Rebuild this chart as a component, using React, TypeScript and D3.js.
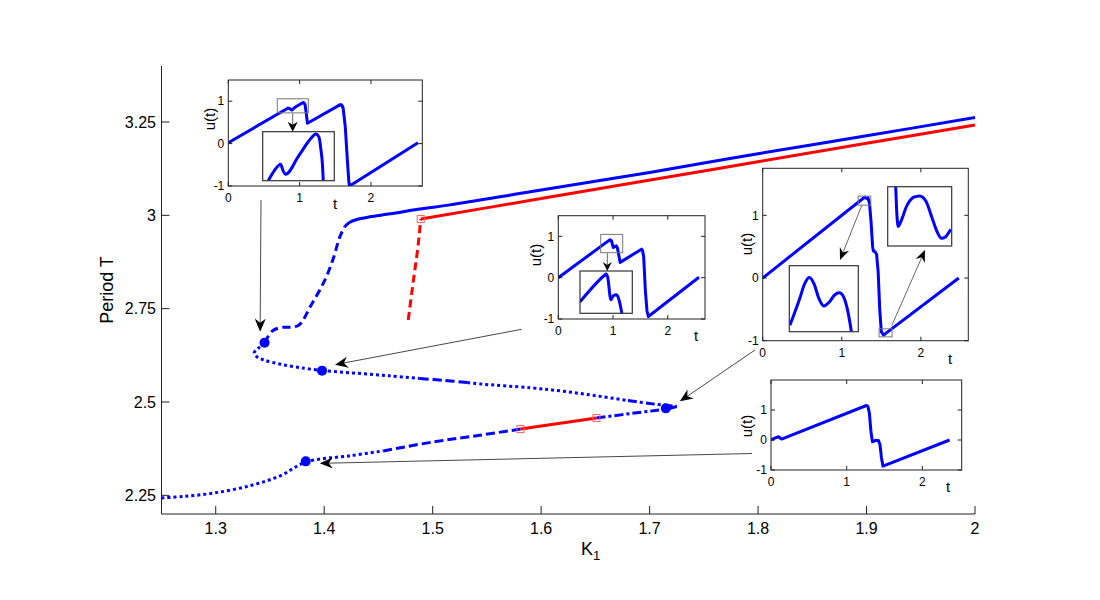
import React from "react";
import * as d3 from "d3";

type P = [number, number];

const W = 1100;
const H = 600;
const FONT = "'Liberation Sans', Arial, Helvetica, sans-serif";
const BLUE = "#0000ff";
const RED = "#ff0000";

// ---- main diagram: K1 against period T
const kTicks = [1.3, 1.4, 1.5, 1.6, 1.7, 1.8, 1.9, 2];
const periodTicks = [2.25, 2.5, 2.75, 3, 3.25];

// stable upper branch
const blueSolid: P[] = [
  [1.419, 2.97], [1.424, 2.982], [1.43, 2.989], [1.442, 2.996], [1.461, 3.004],
  [1.488, 3.017], [1.516, 3.028], [1.59, 3.063], [1.7, 3.115], [1.8, 3.165],
  [1.9, 3.213], [2.0, 3.262],
];
const blueDashedUpper: P[] = [
  [1.345, 2.659], [1.352, 2.69], [1.359, 2.699], [1.376, 2.705], [1.388, 2.76],
  [1.4007, 2.827], [1.408, 2.881], [1.4145, 2.943], [1.419, 2.97],
];
const foldDotted: P[] = [
  [1.345, 2.659], [1.339, 2.643], [1.3355, 2.632], [1.338, 2.621], [1.344, 2.613],
  [1.36, 2.601], [1.38, 2.591], [1.398, 2.584],
];
const midDotted1: P[] = [[1.398, 2.584], [1.43, 2.577], [1.46, 2.57], [1.488, 2.563]];
const midDashed: P[] = [[1.488, 2.563], [1.51, 2.558], [1.532, 2.552]];
const midDotted2: P[] = [
  [1.532, 2.552], [1.545, 2.548], [1.59, 2.538], [1.62, 2.529], [1.65, 2.517], [1.68, 2.504],
];
const midDashDot: P[] = [[1.68, 2.504], [1.70, 2.496], [1.715, 2.491], [1.725, 2.488]];
const lowDashDot: P[] = [[1.725, 2.488], [1.715, 2.481], [1.69, 2.472], [1.651, 2.457]];
const lowDashed: P[] = [[1.4545, 2.369], [1.5005, 2.393], [1.5435, 2.411], [1.581, 2.4275]];
const lowDotted: P[] = [
  [1.25, 2.243], [1.27, 2.247], [1.298, 2.256], [1.332, 2.276], [1.36, 2.303],
  [1.383, 2.339], [1.4237, 2.356], [1.4545, 2.369],
];
// second family (red)
const redSolidUpper: P[] = [[1.489, 2.99], [1.6, 3.045], [1.75, 3.119], [1.9, 3.193], [2.0, 3.242]];
const redDashed: P[] = [[1.4775, 2.72], [1.4806, 2.79], [1.4836, 2.854], [1.4866, 2.92], [1.489, 2.99]];
const redSolidLower: P[] = [[1.581, 2.4275], [1.651, 2.457]];

const markers: P[] = [[1.345, 2.659], [1.398, 2.584], [1.715, 2.483], [1.383, 2.341]];
const squares: P[] = [[1.489, 2.99], [1.581, 2.4275], [1.651, 2.457]];

// ---- inset time series u(t)
const inset1Curve: P[] = [
  [0, 0.02], [0.84, 0.84], [0.865, 0.82], [0.89, 0.79], [0.93, 0.85], [1.03, 0.95],
  [1.055, 0.97], [1.075, 0.93], [1.09, 0.75], [1.11, 0.48], [1.57, 0.92], [1.59, 0.91],
  [1.61, 0.84], [1.64, 0.4], [1.67, -0.4], [1.69, -0.9], [1.70, -1], [2.66, 0.02],
];
const inset1Zoom: P[] = [
  [0.078, 0], [0.16, 0.2], [0.251, 0.335], [0.285, 0.2], [0.321, 0.131], [0.5, 0.5],
  [0.689, 0.89], [0.74, 0.953], [0.786, 0.89], [0.814, 0.624], [0.835, 0.318], [0.846, 0],
];
const inset2Curve: P[] = [
  [0, 0], [0.945, 0.92], [0.97, 0.9], [0.99, 0.8], [1.005, 0.73], [1.03, 0.75],
  [1.06, 0.77], [1.08, 0.72], [1.10, 0.58], [1.13, 0.37], [1.52, 0.69], [1.54, 0.66],
  [1.56, 0.5], [1.59, -0.3], [1.62, -0.8], [1.645, -0.94], [2.57, 0.01],
];
const inset2Zoom: P[] = [
  [0, 0.27], [0.47, 0.9], [0.5, 0.93], [0.53, 0.85], [0.59, 0.32], [0.64, 0.42],
  [0.7, 0.44], [0.75, 0.3], [0.8, 0],
];
const inset3Curve: P[] = [
  [0, 0], [1.26, 1.26], [1.29, 1.29], [1.31, 1.27], [1.33, 1.28], [1.35, 1.2],
  [1.37, 0.9], [1.39, 0.5], [1.40, 0.43], [1.42, 0.42], [1.44, 0.38], [1.46, 0.1],
  [1.48, -0.5], [1.50, -0.86], [1.53, -0.91], [1.56, -0.88], [2.48, 0],
];
const inset3ZoomA: P[] = [
  [0.01, 0.1], [0.15, 0.5], [0.22, 0.72], [0.29, 0.82], [0.36, 0.72], [0.43, 0.5],
  [0.5, 0.39], [0.58, 0.45], [0.66, 0.56], [0.725, 0.59], [0.79, 0.52], [0.85, 0.3], [0.9, 0],
];
const inset3ZoomB: P[] = [
  [0.125, 1.0], [0.14, 0.6], [0.165, 0.33], [0.2, 0.4], [0.3, 0.68], [0.4, 0.82],
  [0.5, 0.845], [0.6, 0.75], [0.7, 0.45], [0.78, 0.22], [0.84, 0.13], [0.9, 0.15],
  [0.95, 0.22], [0.985, 0.28],
];
const inset4Curve: P[] = [
  [0, 0], [0.05, 0.06], [0.1, 0.11], [0.14, 0.03], [1.26, 1.15], [1.28, 1.12],
  [1.30, 0.9], [1.32, 0.3], [1.34, -0.06], [1.38, -0.01], [1.42, -0.02], [1.44, -0.15],
  [1.46, -0.6], [1.48, -0.87], [2.36, 0],
];
const insetTTicks = [0, 1, 2];
const insetUTicks = [-1, 0, 1];

type Zoom = { rect: number[]; sub: number[]; curve: P[]; arrow: number[]; head: number[] };
type InsetCfg = {
  box: number[]; tDom: number[]; uDom: number[]; curve: P[];
  tLabel: number[]; uLabel: number[]; zooms: Zoom[];
};

const insets: InsetCfg[] = [
  {
    box: [228.3, 80, 422.3, 186], tDom: [0, 2.72], uDom: [-1, 1.5], curve: inset1Curve,
    tLabel: [335, 208.5], uLabel: [215, 119],
    zooms: [{ rect: [0.687, 1.122, 0.725, 1.057], sub: [262.7, 131.7, 334.3, 180.7], curve: inset1Zoom, arrow: [292.7, 113.3, 292.7, 131.7], head: [10, 5, 3] }],
  },
  {
    box: [558.3, 215.7, 705, 319], tDom: [0, 2.68], uDom: [-1, 1.5], curve: inset2Curve,
    tLabel: [696, 340.7], uLabel: [541, 255],
    zooms: [{ rect: [0.775, 1.177, 0.605, 1.048], sub: [580, 271, 632.3, 313.3], curve: inset2Zoom, arrow: [607.3, 253.3, 607.3, 271], head: [9, 4.5, 3] }],
  },
  {
    box: [762.7, 168.3, 968.3, 340.7], tDom: [0, 2.6], uDom: [-1, 1.75], curve: inset3Curve,
    tLabel: [950, 364], uLabel: [752, 244],
    zooms: [
      { rect: [1.207, 1.367, 1.162, 1.306], sub: [789.3, 265.7, 858.3, 331.7], curve: inset3ZoomA, arrow: [861.7, 205.7, 840, 260], head: [12, 5, 4] },
      { rect: [1.472, 1.636, -0.939, -0.811], sub: [887.7, 186.7, 951.7, 246], curve: inset3ZoomB, arrow: [891.7, 325.7, 925, 250], head: [12, 5, 4] },
    ],
  },
  {
    box: [771, 380, 961.7, 470], tDom: [0, 2.52], uDom: [-1, 2], curve: inset4Curve,
    tLabel: [948, 491.7], uLabel: [752, 426], zooms: [],
  },
];

// arrows from insets to the orbits they show: tail in px, tip offset from marker
const callouts = [
  { tail: [261, 200], marker: 0, off: [-4.4, -11] },
  { tail: [521.7, 329.3], marker: 1, off: [13, -6] },
  { tail: [755, 350], marker: 2, off: [14, -7] },
  { tail: [752, 453.5], marker: 3, off: [14, 2] },
];

function arrowHead(x1: number, y1: number, x2: number, y2: number, L: number, hw: number, notch: number) {
  const a = Math.atan2(y2 - y1, x2 - x1);
  const c = Math.cos(a), s = Math.sin(a);
  const pt = (u: number, v: number) => [x2 + u * c - v * s, y2 + u * s + v * c];
  const p = [pt(0, 0), pt(-L, -hw), pt(-L + notch, 0), pt(-L, hw)];
  return "M" + p.map((q) => q.join(",")).join("L") + "Z";
}

function Arrow({ a, head, stroke = "#333", width = 0.9 }: { a: number[]; head: number[]; stroke?: string; width?: number }) {
  const [x1, y1, x2, y2] = a;
  const len = Math.hypot(x2 - x1, y2 - y1);
  const f = (len - head[0] + head[2]) / len;
  return (
    <g>
      <line x1={x1} y1={y1} x2={x1 + (x2 - x1) * f} y2={y1 + (y2 - y1) * f} stroke={stroke} strokeWidth={width} />
      <path d={arrowHead(x1, y1, x2, y2, head[0], head[1], head[2])} fill="#000" />
    </g>
  );
}

function Inset({ cfg, id }: { cfg: InsetCfg; id: string }) {
  const [bx0, by0, bx1, by1] = cfg.box;
  const x = d3.scaleLinear().domain(cfg.tDom).range([bx0, bx1]);
  const y = d3.scaleLinear().domain(cfg.uDom).range([by1, by0]);
  // sampled orbit: straight segments
  const line = d3.line<P>().x((d) => x(d[0])).y((d) => y(d[1]));
  const tk = 4;
  return (
    <g fontFamily={FONT} fill="#000">
      <defs>
        <clipPath id={id}><rect x={bx0} y={by0} width={bx1 - bx0} height={by1 - by0} /></clipPath>
      </defs>
      <rect x={bx0} y={by0} width={bx1 - bx0} height={by1 - by0} fill="#fff" />
      <path d={line(cfg.curve) ?? ""} fill="none" stroke={BLUE} strokeWidth={3} strokeLinejoin="round" clipPath={`url(#${id})`} />
      {insetTTicks.map((t) => (
        <g key={"t" + t}>
          <line x1={x(t)} x2={x(t)} y1={by1} y2={by1 - tk} stroke="#222" />
          <line x1={x(t)} x2={x(t)} y1={by0} y2={by0 + tk} stroke="#222" />
          <text x={x(t)} y={by1 + 16} fontSize={12} textAnchor="middle">{t}</text>
        </g>
      ))}
      {insetUTicks.map((u) => (
        <g key={"u" + u}>
          <line x1={bx0} x2={bx0 + tk} y1={y(u)} y2={y(u)} stroke="#222" />
          <line x1={bx1} x2={bx1 - tk} y1={y(u)} y2={y(u)} stroke="#222" />
          <text x={bx0 - 4} y={y(u)} dy="0.35em" fontSize={12} textAnchor="end">{u}</text>
        </g>
      ))}
      <rect x={bx0} y={by0} width={bx1 - bx0} height={by1 - by0} fill="none" stroke="#222" strokeWidth={1} />
      <text x={cfg.tLabel[0]} y={cfg.tLabel[1]} fontSize={15} textAnchor="middle">t</text>
      <text transform={`translate(${cfg.uLabel[0]},${cfg.uLabel[1]}) rotate(-90)`} fontSize={15} textAnchor="middle">u(t)</text>
      {cfg.zooms.map((z, i) => {
        const [sx0, sy0, sx1, sy1] = z.sub;
        const zx = d3.scaleLinear().domain([0, 1]).range([sx0, sx1]);
        const zy = d3.scaleLinear().domain([0, 1]).range([sy1, sy0]);
        const zl = d3.line<P>().x((d) => zx(d[0])).y((d) => zy(d[1])).curve(d3.curveMonotoneX);
        const rx0 = x(z.rect[0]), rx1 = x(z.rect[1]);
        const ry0 = y(z.rect[3]), ry1 = y(z.rect[2]);
        const cid = `${id}-z${i}`;
        return (
          <g key={i}>
            <rect x={rx0} y={ry0} width={rx1 - rx0} height={ry1 - ry0} fill="none" stroke="#777" strokeWidth={1} />
            <Arrow a={z.arrow} head={z.head} stroke="#555" />
            <defs>
              <clipPath id={cid}><rect x={sx0} y={sy0} width={sx1 - sx0} height={sy1 - sy0} /></clipPath>
            </defs>
            <rect x={sx0} y={sy0} width={sx1 - sx0} height={sy1 - sy0} fill="#fff" />
            <path d={zl(z.curve) ?? ""} fill="none" stroke={BLUE} strokeWidth={3} clipPath={`url(#${cid})`} />
            <rect x={sx0} y={sy0} width={sx1 - sx0} height={sy1 - sy0} fill="none" stroke="#333" strokeWidth={1.2} />
          </g>
        );
      })}
    </g>
  );
}

export default function App() {
  const x = d3.scaleLinear().domain([1.25, 2]).range([161.5, 975]);
  const y = d3.scaleLinear().domain([2.2, 3.4]).range([514, 66]);
  const smooth = d3.line<P>().x((d) => x(d[0])).y((d) => y(d[1])).curve(d3.curveCatmullRom.alpha(0.5));

  const segments: { pts: P[]; color: string; dash?: string }[] = [
    { pts: blueSolid, color: BLUE },
    { pts: blueDashedUpper, color: BLUE, dash: "8,4.5" },
    { pts: foldDotted, color: BLUE, dash: "3,3" },
    { pts: midDotted1, color: BLUE, dash: "3,3" },
    { pts: midDashed, color: BLUE, dash: "9,4" },
    { pts: midDotted2, color: BLUE, dash: "3,3" },
    { pts: midDashDot, color: BLUE, dash: "9,3,3,3" },
    { pts: lowDashDot, color: BLUE, dash: "9,3,3,3" },
    { pts: lowDashed, color: BLUE, dash: "9,4" },
    { pts: lowDotted, color: BLUE, dash: "3,3" },
    { pts: redSolidUpper, color: RED },
    { pts: redDashed, color: RED, dash: "8,4.5" },
    { pts: redSolidLower, color: RED },
  ];

  const [yBottom, yTop] = y.range();
  const [xLeft, xRight] = x.range();

  return (
    <div style={{ position: "absolute", left: 0, top: 0 }}>
      <svg width={W} height={H} viewBox={`0 0 ${W} ${H}`} style={{ display: "block", background: "#fff" }}>
        <rect width={W} height={H} fill="#fff" />
        {/* axes */}
        <g fontFamily={FONT} fontSize={16} fill="#000">
          <line x1={xLeft} x2={xLeft} y1={yTop} y2={yBottom} stroke="#222" />
          <line x1={xLeft} x2={xRight} y1={yBottom} y2={yBottom} stroke="#222" />
          {kTicks.map((k) => (
            <g key={k}>
              <line x1={x(k)} x2={x(k)} y1={yBottom} y2={yBottom - 8} stroke="#222" />
              <text x={x(k)} y={533.5} textAnchor="middle">{k}</text>
            </g>
          ))}
          {periodTicks.map((t) => (
            <g key={t}>
              <line x1={xLeft} x2={xLeft + 8} y1={y(t)} y2={y(t)} stroke="#222" />
              <text x={156} y={y(t)} dy="0.35em" textAnchor="end">{t}</text>
            </g>
          ))}
          <text x={581} y={555} fontSize={18}>K<tspan fontSize={13} dy={5}>1</tspan></text>
          <text transform={`translate(113,${(yTop + yBottom) / 2}) rotate(-90)`} fontSize={18} textAnchor="middle">Period T</text>
        </g>
        {/* branches */}
        {segments.map((s, i) => (
          <path key={i} d={smooth(s.pts) ?? ""} fill="none" stroke={s.color} strokeWidth={3}
            strokeDasharray={s.dash} strokeLinecap="butt" strokeLinejoin="round" />
        ))}
        {squares.map((d, i) => (
          <rect key={i} x={x(d[0]) - 3.5} y={y(d[1]) - 3.5} width={7} height={7} fill="none" stroke="#ff6060" strokeWidth={1} />
        ))}
        {markers.map((d, i) => (
          <circle key={i} cx={x(d[0])} cy={y(d[1])} r={5} fill={BLUE} />
        ))}
        {callouts.map((c, i) => {
          const m = markers[c.marker];
          const tip = [x(m[0]) + c.off[0], y(m[1]) + c.off[1]];
          return <Arrow key={i} a={[c.tail[0], c.tail[1], tip[0], tip[1]]} head={[13, 5.5, 4]} stroke="#333" width={0.9} />;
        })}
        {insets.map((cfg, i) => (
          <Inset key={i} cfg={cfg} id={`inset${i}`} />
        ))}
      </svg>
    </div>
  );
}
